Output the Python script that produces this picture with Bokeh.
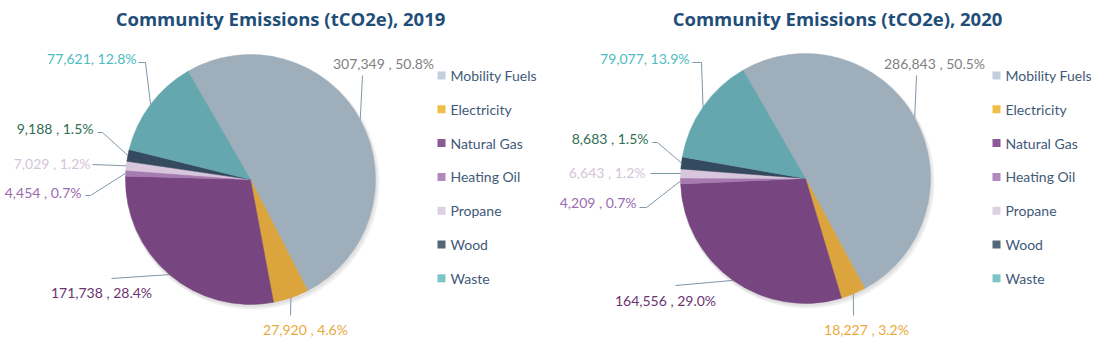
import math
from bokeh.plotting import figure
from bokeh.models import Range1d
from bokeh.core.properties import value
from bokeh.embed import file_html
from bokeh.resources import INLINE

# ---------------- data ----------------
categories = ["Mobility Fuels", "Electricity", "Natural Gas", "Heating Oil",
              "Propane", "Wood", "Waste"]
years = ["2019", "2020"]
values_2019 = [307349, 27920, 171738, 4454, 7029, 9188, 77621]
values_2020 = [286843, 18227, 164556, 4209, 6643, 8683, 79077]
title_template = "Community Emissions (tCO2e), {}"

# ---------------- styles ----------------
slice_colors = ["#9FAEBB", "#DCA43C", "#77457F", "#A57BB0", "#D8C6DC", "#344A5E", "#64A7AE"]
legend_colors = ["#C1D0DC", "#F2BD44", "#8C5A96", "#B089BD", "#DED0E2", "#56677A", "#7CC4C7"]
label_colors = ["#7F7F7F", "#E9A93A", "#6A3472", "#9B6BB0", "#D5C3DA", "#2F6E50", "#4DBBC1"]
separators = [" , ", " , ", " , ", " , ", " , ", " , ", ", "]
title_color = "#1F4E79"
legend_text_color = "#3F5A78"
leader_color = "#8097A8"

W, H = 1106, 350
first_angle = -30.0   # degrees, clockwise from 12 o'clock
radius = 125

layouts = {
    "2019": dict(
        center=(250, 179), title_x=280, legend_x=441,
        label_pos=[(383, 63, "center"), (305, 329, "center"), (101, 292, "center"),
                   (81, 192, "right"), (90, 163, "right"), (93, 128, "right"), (136, 58, "right")],
        leader=[[(362, 75)], [(290, 315)], [(111, 278)], [(85, 195), (90, 195)],
                [(92, 164)], [(97, 132), (102, 132)], [(138, 62), (145, 62)]],
    ),
    "2020": dict(
        center=(805, 178), title_x=837, legend_x=996,
        label_pos=[(934, 63, "center"), (866, 329, "center"), (665, 300, "center"),
                   (636, 202, "right"), (645, 172, "right"), (648, 138, "right"), (689, 58, "right")],
        leader=[[(916, 75)], [(853, 315)], [(675, 285)], [(639, 207), (646, 207)],
                [(650, 173)], [(652, 142), (657, 142)], [(692, 62), (701, 62)]],
    ),
}
legend_y0 = 75
legend_dy = 33.8


def Y(ypx):
    return H - ypx


p = figure(width=W, height=H, x_range=Range1d(0, W), y_range=Range1d(0, H),
           output_backend="svg", toolbar_location=None, min_border=0)
p.axis.visible = False
p.grid.visible = False
p.outline_line_color = None
p.background_fill_color = "white"
p.border_fill_color = "white"

for year, vals in zip(years, [values_2019, values_2020]):
    lay = layouts[year]
    cx, cy = lay["center"]
    total = float(sum(vals))
    # cumulative clockwise angles (degrees from 12 o'clock)
    starts, ends, mids = [], [], []
    a = first_angle
    for v in vals:
        span = v / total * 360.0
        starts.append(a)
        ends.append(a + span)
        mids.append(a + span / 2)
        a += span

    # soft shadow
    p.circle(x=[cx + 2], y=[Y(cy) - 3], radius=radius + 2, radius_units="screen",
             fill_color="#000000", fill_alpha=0.06, line_color=None)
    p.circle(x=[cx + 1], y=[Y(cy) - 2], radius=radius + 1, radius_units="screen",
             fill_color="#000000", fill_alpha=0.06, line_color=None)

    # wedges: convert clockwise-from-top to math angles
    p.wedge(x=[cx] * len(vals), y=[Y(cy)] * len(vals), radius=radius, radius_units="screen",
            start_angle=[math.radians(90 - e) for e in ends],
            end_angle=[math.radians(90 - s) for s in starts],
            direction="anticlock", fill_color=slice_colors,
            line_color=slice_colors, line_width=0.5)

    # leader lines from label to pie edge at slice mid angle
    xs, ys = [], []
    for pts, m in zip(lay["leader"], mids):
        ex = cx + radius * math.sin(math.radians(m))
        ey = cy - radius * math.cos(math.radians(m))
        xs.append([q[0] for q in pts] + [ex])
        ys.append([Y(q[1]) for q in pts] + [Y(ey)])
    p.multi_line(xs=xs, ys=ys, line_color=leader_color, line_width=1)

    # data labels
    for i, v in enumerate(vals):
        lx, ly, al = lay["label_pos"][i]
        txt = "{:,}{}{:.1f}%".format(v, separators[i], v / total * 100)
        p.text(x=[lx], y=[Y(ly)], text=[txt], text_align=al, text_baseline="middle",
               text_font=value("Lato"), text_font_size="14px", text_color=label_colors[i])

    # title
    p.text(x=[lay["title_x"]], y=[Y(18)], text=[title_template.format(year)],
           text_align="center", text_baseline="middle", text_font=value("Open Sans"),
           text_font_style="bold", text_font_size="18.5px", text_color=title_color)

    # legend
    lx = lay["legend_x"]
    ly = [Y(legend_y0 + i * legend_dy) for i in range(len(categories))]
    p.scatter(x=[lx] * len(categories), y=ly, marker="square", size=8,
              fill_color=legend_colors, line_color=None)
    p.text(x=[lx + 9] * len(categories), y=ly, text=categories, text_align="left",
           text_baseline="middle", text_font=value("Lato"), text_font_size="14px",
           text_color=legend_text_color)

open("out.html", "w").write(file_html(p, INLINE))
